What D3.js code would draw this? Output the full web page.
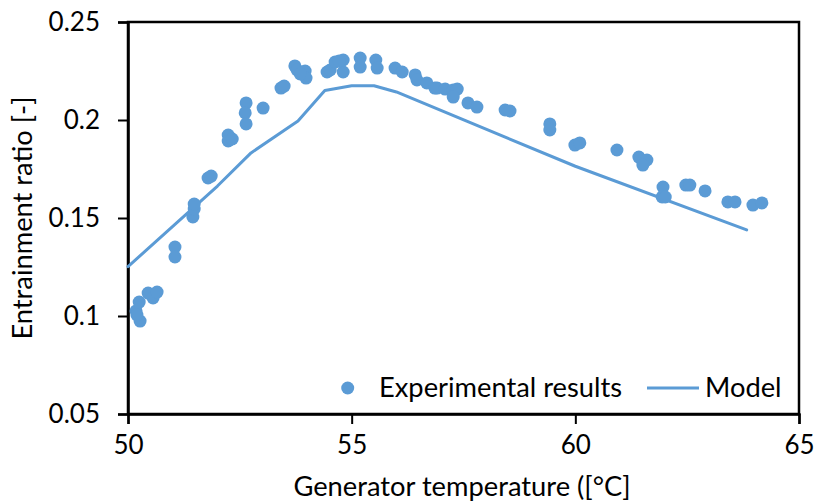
<!DOCTYPE html>
<html>
<head>
<meta charset="utf-8">
<script src="https://cdn.jsdelivr.net/npm/d3@7"></script>
<style>
  html, body { margin: 0; padding: 0; background: #fff; }
  svg text { font-family: Lato, "Open Sans", sans-serif; fill: #000; }
</style>
</head>
<body>
<svg id="chart" width="814" height="504"></svg>
<script>
// Experimental results: generator temperature [°C]
const expTemp = [50.18, 50.25, 50.27, 50.20, 50.45, 50.56, 50.65, 51.05, 51.05, 51.45,
  51.48, 51.48, 51.79, 51.86, 52.24, 52.24, 52.33, 52.64, 52.62, 52.64,
  53.02, 53.42, 53.49, 53.73, 53.78, 53.96, 53.98, 53.85, 54.45, 54.52,
  54.63, 54.81, 54.81, 54.72, 55.19, 55.19, 55.54, 55.57, 55.97, 56.13,
  56.42, 56.46, 56.68, 56.86, 56.91, 57.09, 57.27, 57.36, 57.27, 57.60,
  57.80, 58.43, 58.54, 59.43, 59.43, 59.99, 60.10, 60.93, 61.42, 61.60,
  61.51, 61.96, 61.94, 62.01, 62.47, 62.56, 62.90, 63.41, 63.57, 63.97, 64.17];
// Experimental results: entrainment ratio [-]
const expRatio = [0.1026, 0.1071, 0.0974, 0.1005, 0.1117, 0.1092, 0.1122, 0.1352, 0.1301, 0.1505,
  0.1546, 0.1571, 0.1704, 0.1714, 0.1923, 0.1893, 0.1903, 0.2087, 0.2036, 0.1980,
  0.2061, 0.2163, 0.2173, 0.2276, 0.2255, 0.2250, 0.2214, 0.2235, 0.2245, 0.2255,
  0.2296, 0.2306, 0.2245, 0.2301, 0.2316, 0.2270, 0.2306, 0.2265, 0.2265, 0.2245,
  0.2230, 0.2204, 0.2189, 0.2163, 0.2163, 0.2158, 0.2153, 0.2158, 0.2117, 0.2087,
  0.2066, 0.2051, 0.2046, 0.1980, 0.1949, 0.1872, 0.1883, 0.1847, 0.1811, 0.1796,
  0.1770, 0.1658, 0.1607, 0.1607, 0.1668, 0.1668, 0.1638, 0.1582, 0.1582, 0.1566, 0.1577];
// Model curve
const modelTemp = [50.0, 51.0, 52.0, 52.75, 53.8, 54.4, 55.0, 55.5, 56.0, 60.0, 63.83];
const modelRatio = [0.1252, 0.1457, 0.1663, 0.1832, 0.1995, 0.2150, 0.2175, 0.2175, 0.2143, 0.1764, 0.1439];

const xTicks = [50, 55, 60, 65];
const yTicks = [0.05, 0.1, 0.15, 0.2, 0.25];
const xTickLabels = ["50", "55", "60", "65"];
const yTickLabels = ["0.05", "0.1", "0.15", "0.2", "0.25"];
const xTitle = "Generator temperature ([°C]";
const yTitle = "Entrainment ratio [-]";
const legendLabels = ["Experimental results", "Model"];

const color = "#5B9BD5";
const tickFont = 26;
const textFont = 27.3;
const svg = d3.select("#chart");
const pLeft = 128, pRight = 799, pTop = 22, pBottom = 414;
const x = d3.scaleLinear().domain([50, 65]).range([pLeft, pRight]);
const y = d3.scaleLinear().domain([0.05, 0.25]).range([pBottom, pTop]);

// plot border
svg.append("rect").attr("x", pLeft).attr("y", pTop)
  .attr("width", pRight - pLeft).attr("height", pBottom - pTop)
  .attr("fill", "none").attr("stroke", "#000").attr("stroke-width", 2.5);

// axes
const xAxis = d3.axisBottom(x).tickValues(xTicks).tickSize(10)
  .tickFormat((d, i) => xTickLabels[i]).tickPadding(12);
const gx = svg.append("g").attr("transform", `translate(0,${pBottom})`).call(xAxis);
gx.select(".domain").attr("stroke", "#000").attr("stroke-width", 2.5);
gx.selectAll(".tick line").attr("stroke", "#000").attr("stroke-width", 2);
gx.selectAll(".tick text").attr("font-size", tickFont).attr("font-family", "Lato").attr("fill", "#000");

const yAxis = d3.axisLeft(y).tickValues(yTicks).tickSize(10)
  .tickFormat((d, i) => yTickLabels[i]).tickPadding(18);
const gy = svg.append("g").attr("transform", `translate(${pLeft},0)`).call(yAxis);
gy.select(".domain").attr("stroke", "#000").attr("stroke-width", 2.5);
gy.selectAll(".tick line").attr("stroke", "#000").attr("stroke-width", 2);
gy.selectAll(".tick text").attr("font-size", tickFont).attr("font-family", "Lato").attr("fill", "#000");

// model line
const line = d3.line().x(d => x(d[0])).y(d => y(d[1]));
svg.append("path").datum(modelTemp.map((t, i) => [t, modelRatio[i]]))
  .attr("d", line).attr("fill", "none").attr("stroke", color)
  .attr("stroke-width", 3).attr("stroke-linejoin", "round").attr("stroke-linecap", "round");

// experimental points
svg.append("g").selectAll("circle")
  .data(expTemp.map((t, i) => [t, expRatio[i]]))
  .join("circle")
  .attr("cx", d => x(d[0])).attr("cy", d => y(d[1])).attr("r", 6.5)
  .attr("fill", color);

// legend
svg.append("circle").attr("cx", 347.7).attr("cy", 388).attr("r", 6.5).attr("fill", color);
svg.append("text").attr("x", 379).attr("y", 397).attr("font-size", textFont).text(legendLabels[0]);
svg.append("line").attr("x1", 647).attr("x2", 699).attr("y1", 388).attr("y2", 388)
  .attr("stroke", color).attr("stroke-width", 3);
svg.append("text").attr("x", 705).attr("y", 397).attr("font-size", textFont).text(legendLabels[1]);

// axis titles
svg.append("text").attr("x", 462).attr("y", 496)
  .attr("text-anchor", "middle").attr("font-size", textFont).text(xTitle);
svg.append("text").attr("transform", `translate(32,${(pTop + pBottom) / 2}) rotate(-90)`)
  .attr("text-anchor", "middle").attr("font-size", textFont).text(yTitle);
</script>
</body>
</html>
